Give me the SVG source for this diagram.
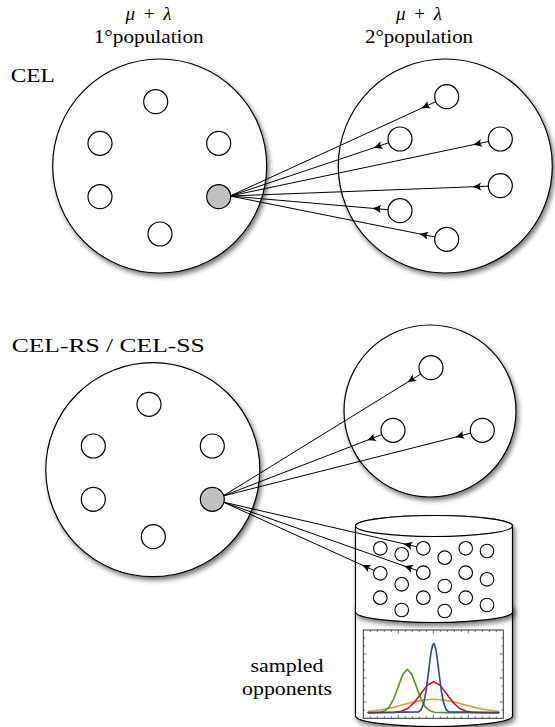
<svg xmlns="http://www.w3.org/2000/svg" width="555" height="727" viewBox="0 0 555 727">
  <defs>
    <filter id="shadow" x="-20%" y="-20%" width="140%" height="140%">
      <feDropShadow dx="2" dy="3" stdDeviation="2.5" flood-color="#000" flood-opacity="0.55"/>
    </filter>
    <marker id="head" markerUnits="userSpaceOnUse" markerWidth="12" markerHeight="10" viewBox="-10 -5 12 10" refX="0" refY="0" orient="auto">
      <path d="M0,0 Q-4,-1.3 -9,-4 Q-6,0 -9,4 Q-4,1.3 0,0 Z" fill="#000"/>
    </marker>
  </defs>
  <style>
    text { font-family: "Liberation Serif", "DejaVu Serif", serif; fill: #000; }
    .pop { fill: #fff; stroke: #000; stroke-width: 1.2; filter: url(#shadow); }
    .ind { fill: #fff; stroke: #000; stroke-width: 1.2; }
    .sel { fill: #c0c0c0; stroke: #000; stroke-width: 1.2; }
    .smp { fill: #fff; stroke: #000; stroke-width: 1.1; }
    .link { fill: none; stroke: #000; stroke-width: 1; marker-mid: url(#head); }
    .tick { fill: none; stroke: #333; stroke-width: 0.7; }
    .curve { fill: none; stroke-width: 1.6; stroke-linejoin: round; stroke-linecap: round; }
  </style>

  <rect width="555" height="727" fill="#fff"/>

  <!-- headings -->
  <g id="labels">
    <text x="148.5" y="19.5" font-size="19" text-anchor="middle" textLength="46"><tspan font-style="italic">μ</tspan> + <tspan font-style="italic">λ</tspan></text>
    <text x="148.7" y="43.3" font-size="19" text-anchor="middle" textLength="110" lengthAdjust="spacingAndGlyphs">1°population</text>
    <text x="419" y="19.5" font-size="19" text-anchor="middle" textLength="46"><tspan font-style="italic">μ</tspan> + <tspan font-style="italic">λ</tspan></text>
    <text x="419" y="43.3" font-size="19" text-anchor="middle" textLength="108" lengthAdjust="spacingAndGlyphs">2°population</text>
    <text x="10.7" y="81.7" font-size="19" textLength="44" lengthAdjust="spacingAndGlyphs">CEL</text>
    <text x="11.7" y="352.3" font-size="19" textLength="193" lengthAdjust="spacingAndGlyphs">CEL-RS / CEL-SS</text>
    <text x="287" y="671.7" font-size="18" text-anchor="middle" textLength="73" lengthAdjust="spacingAndGlyphs">sampled</text>
    <text x="287" y="695" font-size="18" text-anchor="middle" textLength="90" lengthAdjust="spacingAndGlyphs">opponents</text>
  </g>

  <!-- CEL: primary population -->
  <g id="cel-primary">
    <circle class="pop" cx="159.7" cy="166" r="107"/>
    <circle class="ind" cx="155.7" cy="101.7" r="12"/>
    <circle class="ind" cx="100" cy="143.3" r="12"/>
    <circle class="ind" cx="218.7" cy="143.3" r="12"/>
    <circle class="ind" cx="100" cy="196.7" r="12"/>
    <circle class="ind" cx="160" cy="234" r="12"/>
  </g>

  <!-- CEL: secondary population -->
  <g id="cel-secondary">
    <circle class="pop" cx="445.3" cy="166" r="107"/>
    <circle class="ind" cx="446.7" cy="96.7" r="12"/>
    <circle class="ind" cx="400" cy="139" r="12"/>
    <circle class="ind" cx="500.3" cy="139" r="12"/>
    <circle class="ind" cx="500.3" cy="185.7" r="12"/>
    <circle class="ind" cx="400" cy="210.7" r="12"/>
    <circle class="ind" cx="446.7" cy="239.3" r="12"/>
  </g>

  <!-- CEL-RS / CEL-SS: primary population -->
  <g id="rs-primary">
    <circle class="pop" cx="152.8" cy="469.7" r="107"/>
    <circle class="ind" cx="149" cy="404.3" r="12"/>
    <circle class="ind" cx="93.3" cy="446" r="12"/>
    <circle class="ind" cx="212.3" cy="446" r="12"/>
    <circle class="ind" cx="93.3" cy="499.3" r="12"/>
    <circle class="ind" cx="153.3" cy="536.7" r="12"/>
  </g>

  <!-- CEL-RS / CEL-SS: secondary population -->
  <g id="rs-secondary">
    <circle class="pop" cx="430" cy="411" r="86"/>
    <circle class="ind" cx="431" cy="367.7" r="12"/>
    <circle class="ind" cx="393" cy="430.3" r="12"/>
    <circle class="ind" cx="482.3" cy="430.3" r="12"/>
  </g>

  <!-- opponent archive: lower drum with the distribution plot -->
  <g id="archive-distribution">
    <path class="pop" d="M355.5,606 L355.5,716 A78.5,10.5 0 0 0 512.5,716 L512.5,606 Z"/>
    <rect x="363.3" y="630" width="140" height="88.3" fill="#fff" stroke="#333" stroke-width="1"/>
    <path class="tick" d="M370.3,630v2M377.3,630v2M384.3,630v2M391.3,630v2M398.3,630v3.5M405.3,630v2M412.3,630v2M419.3,630v2M426.3,630v2M433.3,630v3.5M440.3,630v2M447.3,630v2M454.3,630v2M461.3,630v2M468.3,630v3.5M475.3,630v2M482.3,630v2M489.3,630v2M496.3,630v2
      M370.3,718.3v-2M377.3,718.3v-2M384.3,718.3v-2M391.3,718.3v-2M398.3,718.3v-3.5M405.3,718.3v-2M412.3,718.3v-2M419.3,718.3v-2M426.3,718.3v-2M433.3,718.3v-3.5M440.3,718.3v-2M447.3,718.3v-2M454.3,718.3v-2M461.3,718.3v-2M468.3,718.3v-3.5M475.3,718.3v-2M482.3,718.3v-2M489.3,718.3v-2M496.3,718.3v-2
      M363.3,638h2M363.3,646h2M363.3,654h3.5M363.3,662h2M363.3,670h2M363.3,678h3.5M363.3,686h2M363.3,694h2M363.3,702h3.5M363.3,710h2
      M503.3,638h-2M503.3,646h-2M503.3,654h-3.5M503.3,662h-2M503.3,670h-2M503.3,678h-3.5M503.3,686h-2M503.3,694h-2M503.3,702h-3.5M503.3,710h-2"/>
    <polyline class="curve" stroke="#e0a030" points="368.3,711.4 373.7,710.9 381.2,709.8 388.7,708.35 396.2,706.6 403.7,704.6 411.2,702.6 418.7,700.9 426.2,699.7 433.7,699.3 441.2,699.7 448.7,700.9 456.2,702.6 463.7,704.6 471.2,706.6 478.7,708.35 486.2,709.8 493.7,710.9 498.7,711.4"/>
    <polyline class="curve" stroke="#4c9a1c" points="368.3,712.6 380.3,712.2 384.8,710.8 389.3,706.8 393.8,698.6 398.3,686.4 402.8,674.4 407.3,669.3 411.8,674.4 416.3,686.4 420.8,698.6 425.3,706.8 429.8,710.8 434.3,712.2 446,712.6 498.7,712.6"/>
    <polyline class="curve" stroke="#e0101c" points="368.3,712.6 394.7,712.4 401.2,711.3 407.7,708.5 414.2,702.6 420.7,693.9 427.2,685.3 433.7,681.7 440.2,685.3 446.7,693.9 453.2,702.6 459.7,708.5 466.2,711.3 472.7,712.4 498.7,712.6"/>
    <polyline class="curve" stroke="#1f4e9a" points="368.3,712.7 418.7,711.9 421.2,709.65 423.7,703.3 426.2,690.2 428.7,670.6 430,660 431.2,651.45 432.5,645.5 433.7,643.3 434.9,645.5 436.2,651.45 437.4,660 438.7,670.6 441.2,690.2 443.7,703.3 446.2,709.65 448.7,711.9 498.7,712.7"/>
  </g>

  <!-- opponent archive: upper drum holding the sampled individuals -->
  <g id="archive-samples">
    <path class="pop" d="M355.5,526 L355.5,612 A78.5,10.5 0 0 0 512.5,612 L512.5,526 A78.5,10.5 0 0 0 355.5,526 Z"/>
    <ellipse cx="434" cy="526" rx="78.5" ry="10.5" fill="#fff" stroke="#000" stroke-width="1.2"/>
    <circle class="smp" cx="380.3" cy="548.3" r="6.8"/>
    <circle class="smp" cx="401.7" cy="554.3" r="6.8"/>
    <circle class="smp" cx="423.3" cy="548.3" r="6.8"/>
    <circle class="smp" cx="444.7" cy="557.7" r="6.8"/>
    <circle class="smp" cx="465.7" cy="548.3" r="6.8"/>
    <circle class="smp" cx="487" cy="551" r="6.8"/>
    <circle class="smp" cx="380.3" cy="573.3" r="6.8"/>
    <circle class="smp" cx="401.7" cy="584.3" r="6.8"/>
    <circle class="smp" cx="423.3" cy="572.7" r="6.8"/>
    <circle class="smp" cx="444.7" cy="586" r="6.8"/>
    <circle class="smp" cx="465.7" cy="572.7" r="6.8"/>
    <circle class="smp" cx="487" cy="579.3" r="6.8"/>
    <circle class="smp" cx="380.3" cy="597.7" r="6.8"/>
    <circle class="smp" cx="401.7" cy="610" r="6.8"/>
    <circle class="smp" cx="423.3" cy="597.7" r="6.8"/>
    <circle class="smp" cx="444.7" cy="611" r="6.8"/>
    <circle class="smp" cx="465.7" cy="597.7" r="6.8"/>
    <circle class="smp" cx="487" cy="605" r="6.8"/>
  </g>

  <!-- evaluations: each opponent points back at the selected individual -->
  <g id="connectors">
    <path class="link" d="M435.8,101.7 L421.2,108.4 L230,196"/>
    <path class="link" d="M388.6,142.8 L373.5,147.9 L230,196"/>
    <path class="link" d="M488.6,141.5 L472.9,144.8 L230,196"/>
    <path class="link" d="M488.3,186.2 L472.3,186.8 L230,196"/>
    <path class="link" d="M388,209.7 L372.1,208.3 L230,196"/>
    <path class="link" d="M434.9,237 L419.2,233.8 L230,196"/>

    <path class="link" d="M420.8,374 L407.2,382.4 L223,496"/>
    <path class="link" d="M381.8,434.6 L366.9,440.4 L223,496"/>
    <path class="link" d="M470.7,433.2 L455.2,437.2 L223,496"/>
    <path class="link" d="M416.7,546.8 L403.3,543.7 L223,502"/>
    <path class="link" d="M416.9,570.4 L404,565.9 L223,502"/>
    <path class="link" d="M374.1,570.5 L361.6,564.8 L223,502"/>
  </g>

  <!-- selected individuals, drawn over the connector ends -->
  <g id="cel-selected">
    <circle class="sel" cx="218.7" cy="196.7" r="12"/>
  </g>
  <g id="rs-selected">
    <circle class="sel" cx="212.3" cy="499.3" r="12"/>
  </g>
</svg>
